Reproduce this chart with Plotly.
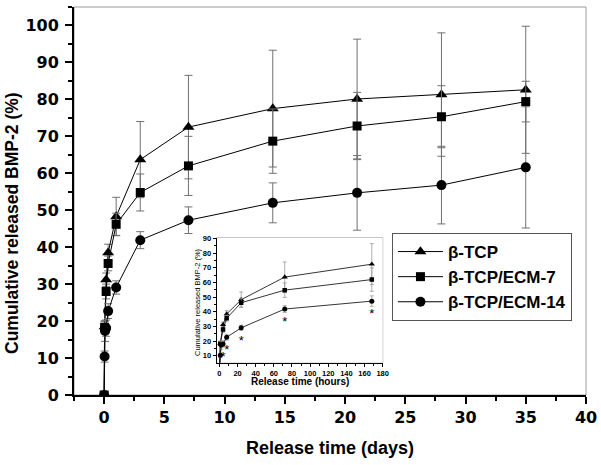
import plotly.graph_objects as go

# ---------------- data ----------------
series_names = ["β-TCP", "β-TCP/ECM-7", "β-TCP/ECM-14"]

hours_tcp = [0, 1, 4, 8, 24, 72, 168, 336, 504, 672, 840]
tcp = [0, 18.5, 31.2, 38.5, 48.3, 63.7, 72.5, 77.5, 80.1, 81.3, 82.6]
tcp_err = [0, 1.5, 1.8, 2.3, 5.2, 10.3, 14.0, 15.8, 16.2, 16.7, 17.2]

hours_ecm7 = [0, 1, 4, 8, 24, 72, 168, 336, 504, 672, 840]
ecm7 = [0, 18.3, 28.0, 35.6, 46.2, 54.8, 62.0, 68.7, 72.8, 75.3, 79.4]
ecm7_err = [0, 1.5, 2.0, 2.0, 3.0, 5.0, 8.0, 8.7, 9.1, 8.4, 5.5]

hours_ecm14 = [0, 1, 2, 4, 8, 24, 72, 168, 336, 504, 672, 840]
ecm14 = [0, 10.4, 17.3, 18.1, 22.7, 29.1, 41.9, 47.3, 52.0, 54.7, 56.8, 61.6]
ecm14_err = [0, 1.5, 2.8, 2.2, 2.0, 1.8, 2.3, 3.6, 5.4, 10.1, 10.5, 16.4]
ecm14_sig = ["", "*", "", "*", "*", "*", "*", "*", "", "", "", ""]

main_x_ticks = [0, 5, 10, 15, 20, 25, 30, 35, 40]
main_y_ticks = [0, 10, 20, 30, 40, 50, 60, 70, 80, 90, 100]
inset_x_ticks = [0, 20, 40, 60, 80, 100, 120, 140, 160, 180]
inset_y_ticks = [10, 20, 30, 40, 50, 60, 70, 80, 90]
inset_max_hours = 168

# ---------------- styling ----------------
TXT = "Liberation Sans, Arial, sans-serif"
NUM = "DejaVu Sans, sans-serif"
ERRC = "#707070"

series = [
    (series_names[0], hours_tcp, tcp, tcp_err, "triangle-up", 10.5, 5.5),
    (series_names[1], hours_ecm7, ecm7, ecm7_err, "square", 9, 4.5),
    (series_names[2], hours_ecm14, ecm14, ecm14_err, "circle", 10, 5),
]

fig = go.Figure()

for name, hrs, vals, errs, sym, msize, isize in series:
    days = [h / 24 for h in hrs]
    fig.add_trace(go.Scatter(
        x=days, y=vals, name=name, mode="lines+markers",
        line=dict(color="black", width=1),
        marker=dict(symbol=sym, size=msize, color="black"),
        error_y=dict(type="data", array=errs, color=ERRC, thickness=1, width=4),
        xaxis="x", yaxis="y", showlegend=True,
    ))

for name, hrs, vals, errs, sym, msize, isize in series:
    idx = [i for i, h in enumerate(hrs) if h <= inset_max_hours]
    fig.add_trace(go.Scatter(
        x=[hrs[i] for i in idx], y=[vals[i] for i in idx], name=name,
        mode="lines+markers",
        line=dict(color="black", width=0.8),
        marker=dict(symbol=sym, size=isize, color="black"),
        error_y=dict(type="data", array=[errs[i] for i in idx],
                     color="#9a9a9a", thickness=0.8, width=2),
        xaxis="x2", yaxis="y2", showlegend=False,
    ))

# significance asterisks under the ECM-14 points in the inset
idx = [i for i, h in enumerate(hours_ecm14) if h <= inset_max_hours]
fig.add_trace(go.Scatter(
    x=[hours_ecm14[i] for i in idx], y=[ecm14[i] for i in idx],
    text=[ecm14_sig[i] for i in idx], mode="markers+text",
    marker=dict(size=10, color="rgba(255,255,255,0)"),
    textposition="bottom center",
    textfont=dict(family=TXT, size=13, color="#000000"),
    xaxis="x2", yaxis="y2", showlegend=False, hoverinfo="skip",
))

main_axis = dict(
    showline=True, linecolor="black", linewidth=2, mirror=False,
    ticks="outside", ticklen=7, tickwidth=2, tickcolor="black",
    showgrid=False, zeroline=False, automargin=False,
    tickfont=dict(family=NUM, size=16, color="black", weight="bold"),
)
inset_axis = dict(
    showline=True, linecolor="black", linewidth=1, mirror=False,
    ticks="outside", ticklen=3, tickwidth=1, tickcolor="black",
    showgrid=False, zeroline=False, automargin=False,
    tickfont=dict(family=TXT, size=7.5, color="black", weight="bold"),
)

fig.update_layout(
    template="none",
    width=601, height=465,
    margin=dict(l=74, r=15, t=7, b=70, autoexpand=False),
    paper_bgcolor="white", plot_bgcolor="white",
    xaxis=dict(main_axis, domain=[0, 1], range=[-2.5, 40],
               tickvals=main_x_ticks, anchor="y",
               minor=dict(dtick=2.5, tick0=0, ticks="outside", ticklen=4,
                          tickwidth=1.5, tickcolor="black")),
    yaxis=dict(main_axis, domain=[0, 1], range=[0, 105],
               tickvals=main_y_ticks, anchor="x", ticklabelstandoff=3,
               minor=dict(dtick=5, tick0=0, ticks="outside", ticklen=4,
                          tickwidth=1.5, tickcolor="black")),
    xaxis2=dict(inset_axis, domain=[0.2787, 0.6029], range=[-3, 180],
                tickvals=inset_x_ticks, anchor="y2",
                minor=dict(dtick=10, tick0=0, ticks="outside", ticklen=2,
                           tickwidth=1, tickcolor="black")),
    yaxis2=dict(inset_axis, domain=[0.0832, 0.4052], range=[5.3, 90.5],
                tickvals=inset_y_ticks, anchor="x2",
                minor=dict(dtick=5, tick0=0, ticks="outside", ticklen=2,
                           tickwidth=1, tickcolor="black")),
    legend=dict(
        x=0.621, y=0.4175, xanchor="left", yanchor="top",
        bgcolor="white", bordercolor="#555555", borderwidth=1,
        font=dict(family=TXT, size=17, color="black", weight="bold"),
        tracegroupgap=0, itemwidth=45,
    ),
    shapes=[
        dict(type="rect", xref="paper", yref="paper", x0=0, x1=1, y0=0, y1=1,
             line=dict(color="#9a9a9a", width=1), layer="below"),
        dict(type="rect", xref="x2 domain", yref="y2 domain", x0=0, x1=1, y0=0, y1=1,
             line=dict(color="#9a9a9a", width=1), layer="below"),
    ],
    annotations=[
        dict(text="Release time (days)", xref="paper", yref="paper",
             x=0.5, y=-0.1366, showarrow=False, xanchor="center", yanchor="middle",
             font=dict(family=TXT, size=18, color="black", weight="bold")),
        dict(text="Cumulative released BMP-2 (%)", xref="paper", yref="paper",
             x=-0.1211, y=0.4433, showarrow=False, textangle=-90,
             xanchor="center", yanchor="middle",
             font=dict(family=TXT, size=17.5, color="black", weight="bold")),
        dict(text="Release time (hours)", xref="paper", yref="paper",
             x=0.4414, y=0.0348, showarrow=False, xanchor="center", yanchor="middle",
             font=dict(family=TXT, size=10, color="black", weight="bold")),
        dict(text="Cumulative released BMP-2 (%)", xref="paper", yref="paper",
             x=0.2422, y=0.2397, showarrow=False, textangle=-90,
             xanchor="center", yanchor="middle",
             font=dict(family=TXT, size=7.5, color="black")),
    ],
)

fig.write_html("out.html", config={"displayModeBar": False},
               post_script="document.body.style.margin='0px';")
